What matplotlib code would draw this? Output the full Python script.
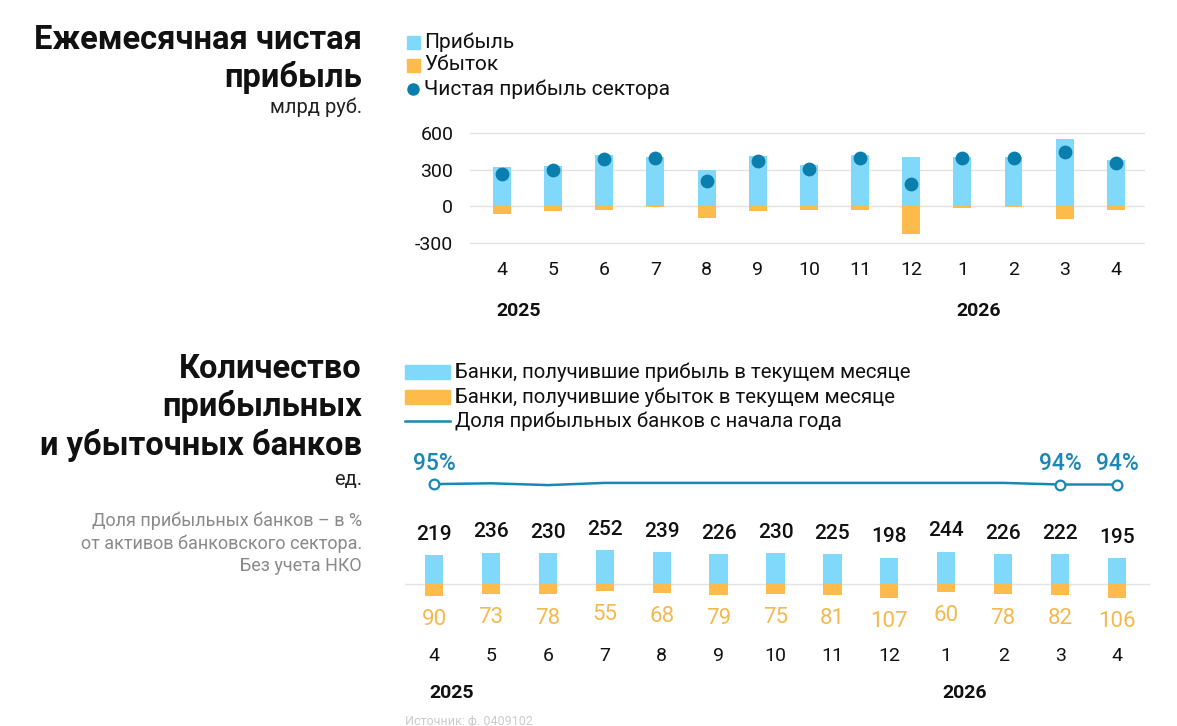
import matplotlib
matplotlib.use('Agg')
import matplotlib.pyplot as plt
from matplotlib.patches import Rectangle
from matplotlib.lines import Line2D
import numpy as np

plt.rcParams['font.family'] = ['Roboto', 'DejaVu Sans']

# данные
months = ['4', '5', '6', '7', '8', '9', '10', '11', '12', '1', '2', '3', '4']
years = ['2025', '2026']
year_pos = [0, 9]

profit = [320, 330, 420, 404, 298, 409, 339, 420, 401, 401, 404, 547, 377]
loss = [-62, -35, -30, -8, -95, -41, -30, -30, -228, -10, -8, -103, -30]
net = [260, 295, 390, 398, 203, 366, 304, 396, 179, 393, 393, 447, 350]

banks_profit = [219, 236, 230, 252, 239, 226, 230, 225, 198, 244, 226, 222, 195]
banks_loss = [90, 73, 78, 55, 68, 79, 75, 81, 107, 60, 78, 82, 106]
share = [94.6, 95.0, 94.1, 95.2, 95.2, 95.2, 95.2, 95.2, 95.2, 95.2, 95.2, 94.4, 94.4]
share_labels = ['95%', '', '', '', '', '', '', '', '', '', '', '94%', '94%']

C_PROFIT = '#80d9fa'
C_LOSS = '#fdbb4b'
C_DOT = '#0a7fae'
C_LINE = '#1a87b5'
C_LOSS_TXT = '#f4b94d'
C_TXT = '#111111'

W, H = 1177, 726
fig = plt.figure(figsize=(W / 100, H / 100), dpi=100)


def fx(px):
    return px / W


def fy(py):
    return 1 - py / H


x = np.arange(len(months))

# ---- верхний график ----
ax1 = fig.add_axes([fx(470), fy(244.5), fx(1145) - fx(470), fy(131.5) - fy(244.5)])
ax1.bar(x, profit, width=0.35, color=C_PROFIT, zorder=2)
ax1.bar(x, loss, width=0.35, color=C_LOSS, zorder=2)
ax1.scatter(x, net, s=80, color=C_DOT, zorder=3)
ax1.set_xlim(-0.625, 12.57)
ax1.set_ylim(-310, 610)
ax1.set_yticks([-300, 0, 300, 600])
ax1.set_yticklabels(['-300', '0', '300', '600'])
ax1.grid(axis='y', color='#e3e3e3', lw=1, zorder=0)
ax1.set_xticks(x)
ax1.set_xticklabels(months)
ax1.tick_params(length=0, labelsize=14, colors=C_TXT)
ax1.tick_params(axis='x', pad=12)
ax1.tick_params(axis='y', pad=12)
for s in ax1.spines.values():
    s.set_visible(False)
for yr, p in zip(years, year_pos):
    ax1.annotate(yr, (p, -0.589), xycoords=ax1.get_xaxis_transform(), xytext=(-4, 0),
                 textcoords='offset points', ha='left', va='center',
                 fontsize=14, fontweight='bold', color=C_TXT)

# ---- нижний график ----
ax2 = fig.add_axes([fx(405), fy(604), fx(1150) - fx(405), fy(544.1) - fy(604)])
ax2.bar(x, banks_profit, width=0.32, color=C_PROFIT, zorder=2)
ax2.bar(x, [-v for v in banks_loss], width=0.32, color=C_LOSS, zorder=2)
ax2.axhline(0, color='#e3e3e3', lw=1, zorder=1)
ax2.set_xlim(-0.51, 12.58)
ax2.set_ylim(-150, 300)
ax2.set_yticks([])
ax2.set_xticks(x)
ax2.set_xticklabels(months)
ax2.tick_params(length=0, labelsize=14, colors=C_TXT)
ax2.tick_params(axis='x', pad=31)
for s in ax2.spines.values():
    s.set_visible(False)
for i, v in enumerate(banks_profit):
    ax2.annotate(str(v), (i, v), xytext=(0, 15), textcoords='offset points', ha='center',
                 va='center', fontsize=15, fontweight='medium', color=C_TXT,
                 annotation_clip=False)
for i, v in enumerate(banks_loss):
    ax2.annotate(str(v), (i, -v), xytext=(0, -17), textcoords='offset points', ha='center',
                 va='center', fontsize=16, color=C_LOSS_TXT, annotation_clip=False)
for yr, p in zip(years, year_pos):
    ax2.annotate(yr, (p, -1.486), xycoords=ax2.get_xaxis_transform(), xytext=(-3, 0),
                 textcoords='offset points', ha='left', va='center',
                 fontsize=14, fontweight='bold', color=C_TXT)

ax3 = fig.add_axes([fx(405), fy(493.3), fx(1150) - fx(405), fy(473.3) - fy(493.3)])
ax3.patch.set_visible(False)
ax3.plot(x, share, color=C_LINE, lw=1.8, clip_on=False)
for i, (v, lab) in enumerate(zip(share, share_labels)):
    if lab:
        ax3.plot(i, v, 'o', ms=7, mfc='white', mec=C_LINE, mew=1.6, clip_on=False)
        ax3.annotate(lab, (i, v), xytext=(0, 15), textcoords='offset points', ha='center',
                     va='center', fontsize=16.5, fontweight='medium', color=C_LINE,
                     annotation_clip=False)
ax3.set_xlim(ax2.get_xlim())
ax3.set_ylim(90, 100)
ax3.axis('off')

# ---- заголовки и подписи ----
fig.text(fx(362), fy(40), 'Ежемесячная чистая', ha='right', va='center', fontsize=23.5,
         fontweight='bold', color=C_TXT)
fig.text(fx(362), fy(77), 'прибыль', ha='right', va='center', fontsize=23.5,
         fontweight='bold', color=C_TXT)
fig.text(fx(362), fy(107), 'млрд руб.', ha='right', va='center', fontsize=14.5, color='#222222')

fig.text(fx(362), fy(369), 'Количество', ha='right', va='center', fontsize=23.5,
         fontweight='bold', color=C_TXT)
fig.text(fx(362), fy(407), 'прибыльных', ha='right', va='center', fontsize=23.5,
         fontweight='bold', color=C_TXT)
fig.text(fx(362), fy(445), 'и убыточных банков', ha='right', va='center', fontsize=23.5,
         fontweight='bold', color=C_TXT)
fig.text(fx(362), fy(480), 'ед.', ha='right', va='center', fontsize=14.5, color='#222222')
notes = ['Доля прибыльных банков – в %', 'от активов банковского сектора.', 'Без учета НКО']
for k, t in enumerate(notes):
    fig.text(fx(362), fy(521 + 22.5 * k), t, ha='right', va='center', fontsize=13,
             color='#8a8a8a')

# легенда верхнего графика
fig.add_artist(Rectangle((fx(407), fy(49)), fx(13), 13 / H, transform=fig.transFigure,
                         color=C_PROFIT))
fig.add_artist(Rectangle((fx(407), fy(72)), fx(13), 13 / H, transform=fig.transFigure,
                         color=C_LOSS))
fig.add_artist(Line2D([fx(413)], [fy(89)], marker='o', ms=8, color=C_DOT,
                      transform=fig.transFigure))
for t, yy in zip(['Прибыль', 'Убыток', 'Чистая прибыль сектора'], [42, 65, 89]):
    fig.text(fx(424), fy(yy), t, ha='left', va='center', fontsize=15, color=C_TXT)

# легенда нижнего графика
fig.add_artist(Rectangle((fx(405), fy(379)), fx(45), 14 / H, transform=fig.transFigure,
                         color=C_PROFIT))
fig.add_artist(Rectangle((fx(405), fy(404)), fx(45), 14 / H, transform=fig.transFigure,
                         color=C_LOSS))
fig.add_artist(Line2D([fx(405), fx(450)], [fy(421), fy(421)], color=C_LINE, lw=1.8,
                      transform=fig.transFigure))
for t, yy in zip(['Банки, получившие прибыль в текущем месяце',
                  'Банки, получившие убыток в текущем месяце',
                  'Доля прибыльных банков с начала года'], [372, 397, 421]):
    fig.text(fx(455), fy(yy), t, ha='left', va='center', fontsize=14.7, color=C_TXT)

fig.text(fx(405), fy(721), 'Источник: ф. 0409102', ha='left', va='center', fontsize=9,
         color='#cccccc')

fig.savefig('out.png', dpi=100, facecolor='white')
